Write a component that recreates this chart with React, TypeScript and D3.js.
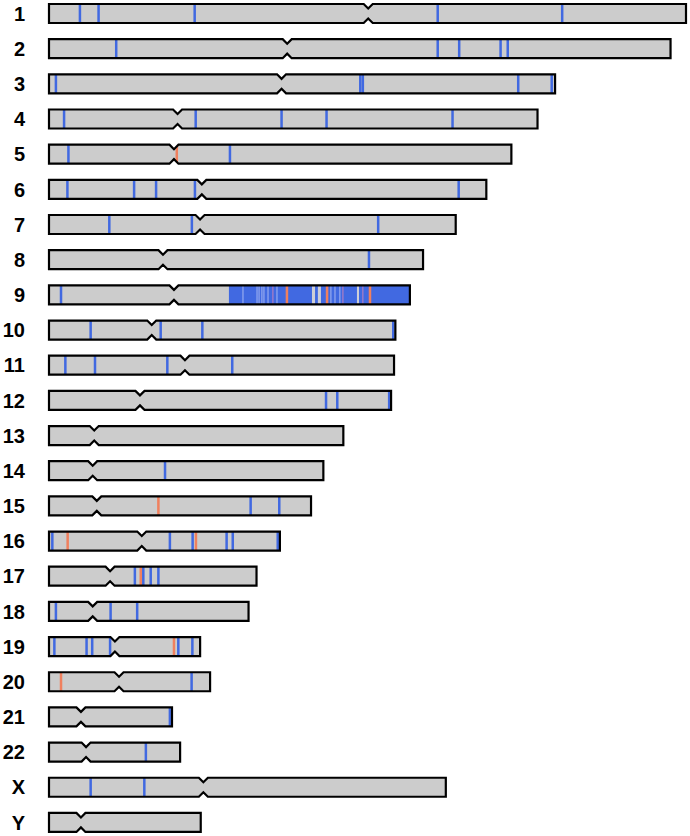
import React from "react";
import * as d3 from "d3";

const chromosomes = ["1","2","3","4","5","6","7","8","9","10","11","12","13","14","15","16","17","18","19","20","21","22","X","Y"];
const lengths = [249.25,243.2,198.02,191.15,180.92,171.12,159.14,146.36,141.21,135.53,135.01,133.85,115.17,107.35,102.53,90.35,81.2,78.08,59.13,63.03,48.13,51.3,155.27,59.37];
const centromeres = [124.9,93.2,91.0,50.3,48.9,59.8,59.1,44.6,48.9,40.2,53.2,35.6,17.7,17.1,18.7,36.3,23.9,17.1,25.8,27.4,12.5,14.5,60.4,12.5];

// [chromosome, position in Mb]
const blueMarks: [string, number][] = [
  ["1",12.1],["1",19.4],["1",57.0],["1",152.1],["1",200.8],
  ["2",26.3],["2",152.1],["2",160.5],["2",176.7],["2",179.5],
  ["3",2.7],["3",121.8],["3",122.8],["3",183.6],["3",196.7],
  ["4",5.9],["4",57.4],["4",91.0],["4",108.6],["4",157.9],
  ["5",7.6],["5",70.8],
  ["6",7.2],["6",33.3],["6",41.9],["6",57.1],["6",160.3],
  ["7",23.6],["7",55.9],["7",128.8],
  ["8",125.2],
  ["9",4.7],
  ["10",16.3],["10",43.7],["10",60.0],["10",134.7],
  ["11",6.4],["11",18.0],["11",46.3],["11",71.7],
  ["12",108.4],["12",112.8],["12",133.1],
  ["14",45.4],
  ["15",78.9],["15",90.1],
  ["16",1.3],["16",47.3],["16",56.2],["16",69.5],["16",71.9],["16",89.5],
  ["17",33.6],["17",36.9],["17",39.8],["17",42.8],
  ["18",2.7],["18",24.1],["18",34.5],
  ["19",2.1],["19",14.7],["19",16.9],["19",23.9],["19",50.6],["19",56.1],
  ["20",55.8],
  ["21",47.3],
  ["22",37.9],
  ["X",16.3],["X",37.3],
];

const redMarks: [string, number][] = [
  ["5",50.0],["15",42.8],["16",7.3],["16",57.5],["17",35.9],["19",48.9],["20",4.7],
  ["9",93.1],["9",108.8],["9",125.6],
];

// dense blue segment [chromosome, start, end]
const blueSegments: [string, number, number][] = [["9",70.4,141.21]];

// light (low-signal) lines inside the dense segment
const lightMarks: [string, number][] = [
  ["9",75.9],["9",81.4],["9",82.2],["9",83.3],["9",84.1],["9",85.7],["9",89.2],
  ["9",110.3],["9",111.9],["9",113.8],
];
const pinkMarks: [string, number][] = [["9",87.6],["9",115.0],["9",122.8]];

// gray gaps inside the dense segment [chromosome, start, end]
const grayGaps: [string, number, number][] = [["9",102.9,104.1],["9",105.2,106.4],["9",120.5,121.3]];

const W = 690, H = 836;
const BLUE = "#4169e1";
const RED = "#f0805e";

export default function App() {
  const x = d3.scaleLinear().domain([0, d3.max(lengths) as number]).range([49, 686]);
  const y = d3.scaleBand().domain(chromosomes).range([4, 4 + 35.17 * 24]).paddingInner(0);
  const boxH = 19;
  const notchW = 4.5, notchD = 4.5;

  const outline = (i: number) => {
    const c = chromosomes[i];
    const top = y(c)!;
    const bot = top + boxH;
    const x0 = x(0), x1 = x(lengths[i]), xc = x(centromeres[i]);
    const p = d3.path();
    p.moveTo(x0, top);
    p.lineTo(xc - notchW, top);
    p.lineTo(xc, top + notchD);
    p.lineTo(xc + notchW, top);
    p.lineTo(x1, top);
    p.lineTo(x1, bot);
    p.lineTo(xc + notchW, bot);
    p.lineTo(xc, bot - notchD);
    p.lineTo(xc - notchW, bot);
    p.lineTo(x0, bot);
    p.closePath();
    return p.toString();
  };

  const line = (m: [string, number], color: string, w: number, k: string) => {
    const top = y(m[0])!;
    return <rect key={k} x={x(m[1]) - w / 2} y={top} width={w} height={boxH} fill={color} />;
  };

  return (
    <svg width={W} height={H} style={{ position: "absolute", left: 0, top: 0, background: "#fff" }}>
      <defs>
        {chromosomes.map((c, i) => (
          <clipPath id={`clip-${i}`} key={c}>
            <path d={outline(i)} />
          </clipPath>
        ))}
      </defs>
      {chromosomes.map((c, i) => {
        const top = y(c)!;
        return (
          <g key={c}>
            <text x={25} y={top + boxH / 2 + 7.2} textAnchor="end" fontFamily="Liberation Sans, Arial, sans-serif" fontWeight="bold" fontSize={20} fill="#000">{c}</text>
            <path d={outline(i)} fill="#cccccc" />
            <g clipPath={`url(#clip-${i})`}>
              {blueSegments.filter(s => s[0] === c).map((s, j) => (
                <rect key={`s${j}`} x={x(s[1])} y={top} width={x(s[2]) - x(s[1])} height={boxH} fill={BLUE} />
              ))}
              {grayGaps.filter(s => s[0] === c).map((s, j) => (
                <rect key={`g${j}`} x={x(s[1])} y={top} width={x(s[2]) - x(s[1])} height={boxH} fill="#cfcfd6" />
              ))}
              {lightMarks.filter(m => m[0] === c).map((m, j) => line(m, "#8fa5ee", 1.3, `l${j}`))}
              {pinkMarks.filter(m => m[0] === c).map((m, j) => line(m, "#a67cc4", 1.3, `p${j}`))}
              {blueMarks.filter(m => m[0] === c).map((m, j) => line(m, BLUE, 2.5, `b${j}`))}
              {redMarks.filter(m => m[0] === c).map((m, j) => line(m, RED, 2.5, `r${j}`))}
            </g>
            <path d={outline(i)} fill="none" stroke="#000" strokeWidth={2.2} strokeLinejoin="miter" />
          </g>
        );
      })}
    </svg>
  );
}
